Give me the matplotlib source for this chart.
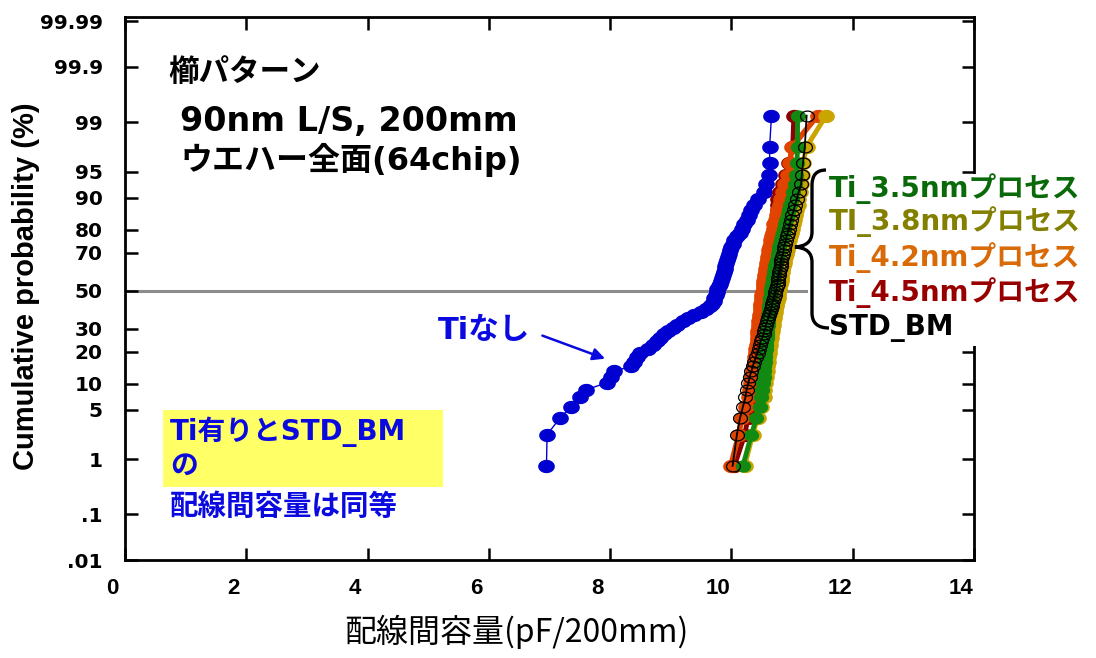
import numpy as np
import matplotlib.pyplot as plt
from matplotlib import font_manager
from matplotlib.path import Path
from matplotlib.patches import PathPatch, Rectangle
from matplotlib.transforms import ScaledTranslation
from statistics import NormalDist

# data: 64 chips per wafer, sorted capacitance values (pF/200mm)
ti_none = [6.95, 6.96, 7.17, 7.36, 7.50, 7.61, 7.94, 8.02, 8.06, 8.35,
           8.40, 8.45, 8.50, 8.62, 8.70, 8.77, 8.83, 8.88, 8.95, 9.03,
           9.11, 9.20, 9.28, 9.38, 9.49, 9.58, 9.64, 9.68, 9.71, 9.72,
           9.74, 9.76, 9.77, 9.79, 9.81, 9.82, 9.84, 9.86, 9.87, 9.89,
           9.90, 9.91, 9.92, 9.94, 9.96, 9.97, 10.00, 10.02, 10.05, 10.09,
           10.14, 10.17, 10.20, 10.25, 10.29, 10.33, 10.38, 10.43, 10.53, 10.57,
           10.62, 10.63, 10.63, 10.66]
ti_45 = [10.05, 10.22, 10.27, 10.32, 10.35, 10.38, 10.39, 10.41, 10.42, 10.43,
         10.43, 10.44, 10.45, 10.46, 10.47, 10.48, 10.48, 10.49, 10.50, 10.51,
         10.52, 10.52, 10.53, 10.53, 10.53, 10.54, 10.55, 10.55, 10.56,
         10.57, 10.57, 10.58, 10.59, 10.60, 10.61, 10.62, 10.62, 10.63, 10.64, 10.65,
         10.66, 10.67, 10.67, 10.68, 10.69, 10.70, 10.71, 10.72, 10.72, 10.73,
         10.74, 10.75, 10.75, 10.76, 10.76, 10.76, 10.76, 10.77, 10.80, 10.85,
         10.90, 10.95, 11.01, 11.03]
ti_42 = [9.99, 10.12, 10.17, 10.24, 10.29, 10.30, 10.32, 10.34, 10.35, 10.37,
         10.39, 10.39, 10.40, 10.41, 10.42, 10.43, 10.43, 10.43, 10.44, 10.45,
         10.45, 10.46, 10.47, 10.47, 10.48, 10.48, 10.48, 10.49, 10.50, 10.50,
         10.51, 10.52, 10.53, 10.53, 10.53, 10.54, 10.55, 10.56, 10.57, 10.57,
         10.58, 10.59, 10.60, 10.61, 10.62, 10.62, 10.63, 10.65, 10.66, 10.67,
         10.68, 10.70, 10.71, 10.73, 10.75, 10.76, 10.80, 10.81, 10.85, 10.88,
         10.93, 10.96, 11.00, 11.42]
ti_38 = [10.22, 10.35, 10.43, 10.49, 10.53, 10.54, 10.56, 10.57, 10.58, 10.59,
         10.60, 10.61, 10.62, 10.62, 10.63, 10.64, 10.65, 10.66, 10.67, 10.67,
         10.68, 10.69, 10.70, 10.71, 10.72, 10.72, 10.73, 10.74, 10.75, 10.76,
         10.76, 10.77, 10.78, 10.79, 10.80, 10.81, 10.81, 10.82, 10.83, 10.84,
         10.85, 10.86, 10.87, 10.88, 10.90, 10.91, 10.92, 10.93, 10.95, 10.96,
         10.98, 11.00, 11.01, 11.04, 11.05, 11.07, 11.09, 11.10, 11.13, 11.14,
         11.16, 11.18, 11.24, 11.56]
ti_35 = [10.19, 10.33, 10.41, 10.47, 10.49, 10.51, 10.52, 10.53, 10.53, 10.54,
         10.55, 10.55, 10.56, 10.57, 10.57, 10.57, 10.58, 10.58, 10.59, 10.59,
         10.60, 10.60, 10.61, 10.61, 10.62, 10.62, 10.62, 10.63, 10.63, 10.64,
         10.65, 10.65, 10.66, 10.67, 10.67, 10.68, 10.69, 10.70, 10.71, 10.72,
         10.72, 10.73, 10.75, 10.76, 10.76, 10.78, 10.79, 10.80, 10.81, 10.83,
         10.85, 10.86, 10.88, 10.90, 10.93, 10.95, 10.97, 11.00, 11.02, 11.05,
         11.07, 11.08, 11.09, 11.09]
std_bm = [10.02, 10.09, 10.14, 10.19, 10.23, 10.25, 10.28, 10.30, 10.33, 10.35,
          10.38, 10.40, 10.43, 10.45, 10.47, 10.48, 10.51, 10.53, 10.54, 10.56,
          10.57, 10.59, 10.61, 10.62, 10.64, 10.65, 10.67, 10.67, 10.69, 10.70,
          10.72, 10.72, 10.74, 10.75, 10.76, 10.76, 10.77, 10.78, 10.79, 10.80,
          10.81, 10.81, 10.82, 10.83, 10.85, 10.86, 10.86, 10.88, 10.90, 10.91,
          10.93, 10.95, 10.96, 10.98, 11.00, 11.03, 11.05, 11.08, 11.11, 11.15,
          11.16, 11.18, 11.21, 11.24]

prob_ticks = [0.01, 0.1, 1, 5, 10, 20, 30, 50, 70, 80, 90, 95, 99, 99.9, 99.99]
prob_labels = ['.01', '.1', '1', '5', '10', '20', '30', '50', '70', '80',
               '90', '95', '99', '99.9', '99.99']
x_ticks = [0, 2, 4, 6, 8, 10, 12, 14]

legend_items = [('Ti_3.5nmプロセス', '#0a6a0a'),
                ('TI_3.8nmプロセス', '#838000'),
                ('Ti_4.2nmプロセス', '#d86a08'),
                ('Ti_4.5nmプロセス', '#980000'),
                ('STD_BM', '#000000')]

W, H = 1096, 658
nd = NormalDist()


def px(x, y):
    """pixel position (from top-left) -> figure fraction"""
    return x / W, 1 - y / H


avail = {f.name for f in font_manager.fontManager.ttflist}
narrow = 'Liberation Sans Narrow' if 'Liberation Sans Narrow' in avail else 'Liberation Sans'
cjk = 'Noto Sans CJK JP'
plt.rcParams['font.family'] = ['DejaVu Sans', cjk]

# slightly flattened dot, like the stretched markers of the original
t = np.linspace(0, 2 * np.pi, 40)
oval = Path(np.column_stack([np.cos(t), 0.78 * np.sin(t)]), closed=True)

fig = plt.figure(figsize=(W / 100, H / 100), dpi=100)
ax = fig.add_axes([125 / W, 98 / H, 849 / W, 543 / H])

n = len(ti_none)
z = np.array([nd.inv_cdf((i - 0.5) / n) for i in range(1, n + 1)])

# 50% reference line
ax.plot([0, 11.23], [0, 0], color='#8c8c8c', lw=2.2, zorder=1)

ax.plot(ti_none, z, '-', marker=oval, color='#0000d0', mec='#0000d0',
        ms=11, lw=1, zorder=3)
ax.plot(ti_45, z, '-', marker=oval, color='#8b0000', ms=11, lw=3.5, zorder=3)
ax.plot(ti_42, z, '-', marker=oval, color='#e04400', ms=11, lw=4, zorder=3)
ax.plot(ti_38, z, '-', marker=oval, color='#caa400', ms=11, lw=3.5, zorder=3)
ax.plot(ti_35, z, '-', marker=oval, color='#128a12', ms=10, lw=3.5, zorder=3)
ax.plot(std_bm, z, '-', marker=oval, color='black', mfc='none', mec='black',
        mew=0.9, ms=10, lw=1.3, zorder=4)

ax.set_xlim(0, 14)
ax.set_ylim(-3.71, 3.78)
ax.set_xticks(x_ticks)
ax.set_xticklabels([str(v) for v in x_ticks], fontfamily=narrow,
                   fontweight='bold', fontsize=16)
ax.set_yticks([nd.inv_cdf(p / 100) for p in prob_ticks])
ax.set_yticklabels(prob_labels, fontfamily='DejaVu Sans', fontweight='bold',
                   fontsize=14.5)
ax.tick_params(direction='in', length=9, width=1.8, top=True, right=True)
ax.tick_params(axis='x', pad=13)
ax.tick_params(axis='y', pad=16)
shift = ScaledTranslation(-13 / 100, 0, fig.dpi_scale_trans)
for lab in ax.get_xticklabels():
    lab.set_transform(lab.get_transform() + shift)
for s in ax.spines.values():
    s.set_linewidth(2)

ax.set_xlabel('配線間容量(pF/200mm)', fontfamily=cjk, fontsize=23)
ax.xaxis.set_label_coords(0.4605, -0.1)
ax.set_ylabel('Cumulative probability (%)', fontfamily='Liberation Sans',
              fontweight='bold', fontsize=21)
ax.yaxis.set_label_coords(-0.1, 0.505)

# text annotations
fig.text(*px(168, 72), '櫛パターン', fontfamily=cjk, fontweight='bold',
         fontsize=22, va='center')
fig.text(*px(180, 121), '90nm L/S, 200mm', fontweight='bold', fontsize=24,
         va='center')
fig.text(*px(180, 160), 'ウエハー全面(64chip)', fontweight='bold', fontsize=23,
         va='center')

fig.text(*px(484, 330), 'Tiなし', color='#0a0ae0', fontweight='bold',
         fontsize=22, ha='center', va='center')
ax.annotate('', xy=(7.96, -0.952), xytext=(6.84, -0.607),
            arrowprops=dict(arrowstyle='-|>', color='#0a0ae0', lw=1.8,
                            mutation_scale=18))

x0, y0 = px(163, 487)
fig.patches.append(Rectangle((x0, y0), 280 / W, 77 / H, facecolor='#ffff66',
                             edgecolor='none', transform=fig.transFigure,
                             zorder=1))
fig.text(*px(170, 432), 'Ti有りとSTD_BM', color='#0a0ae0', fontweight='bold',
         fontsize=20, va='center', zorder=2)
fig.text(*px(170, 466), 'の', color='#0a0ae0', fontweight='bold',
         fontsize=20, va='center', zorder=2)
fig.text(*px(170, 507), '配線間容量は同等', color='#0a0ae0', fontfamily=cjk,
         fontweight='bold', fontsize=20.5, va='center', zorder=2)

# legend block (white box hides right spine), with curly brace
bx, by = px(822, 346)
fig.patches.append(Rectangle((bx, by), 274 / W, 172 / H, facecolor='white',
                             edgecolor='none', transform=fig.transFigure,
                             zorder=1))
leg_y = [189, 222, 258, 293, 328]
for (txt, col), yy in zip(legend_items, leg_y):
    fig.text(*px(829, yy), txt, color=col, fontweight='bold', fontsize=20,
             va='center', zorder=2)

brace = [(826, 170), (812, 170), (812, 185), (812, 232), (812, 246),
         (795, 247), (812, 248), (812, 262), (812, 313), (812, 328), (829, 328)]
codes = [Path.MOVETO, Path.CURVE3, Path.CURVE3, Path.LINETO, Path.CURVE3,
         Path.CURVE3, Path.CURVE3, Path.CURVE3, Path.LINETO, Path.CURVE3,
         Path.CURVE3]
fig.patches.append(PathPatch(Path([px(*p) for p in brace], codes),
                             facecolor='none', edgecolor='black', lw=2.4,
                             transform=fig.transFigure, zorder=2))

fig.savefig('out.png', dpi=100)
